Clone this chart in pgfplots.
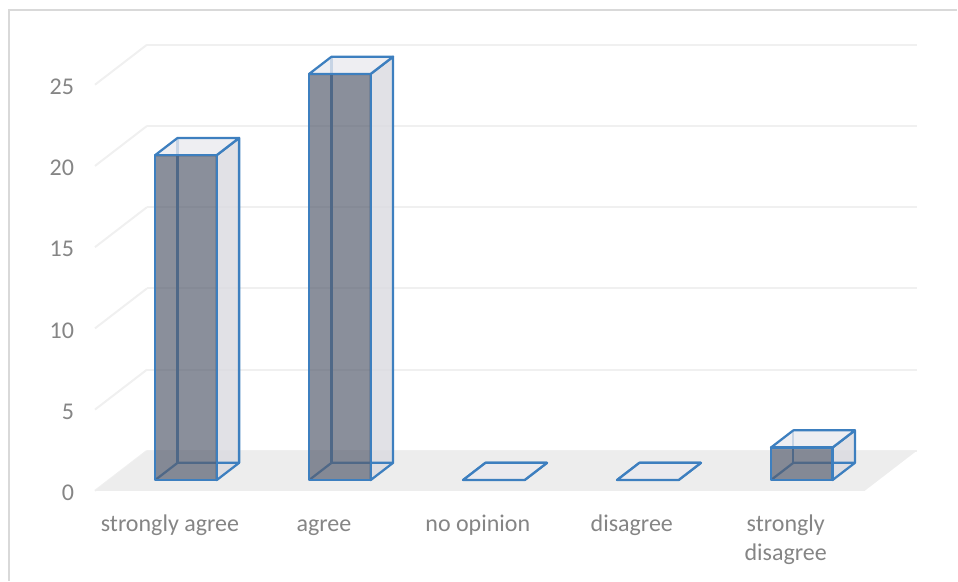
\documentclass[border=0pt]{standalone}
\usepackage{fontspec}
\setmainfont{Carlito}
\usepackage{pgfplots}
\pgfplotsset{compat=1.18}

\definecolor{edgeblue}{HTML}{3D7FBF}
\definecolor{txt}{HTML}{858585}
\definecolor{gridc}{HTML}{F0F0F0}
\definecolor{floorc}{HTML}{EDEDED}
\definecolor{framec}{HTML}{D9D9D9}
\definecolor{frontc}{HTML}{585F70}
\definecolor{sidec}{HTML}{DADAE0}
\definecolor{topc}{HTML}{EAEAEF}

% one column: left x, right x, value (depth runs from 0.27 to 0.7)
\newcommand{\column}[3]{%
  \addplot3[fill=sidec,fill opacity=0.8,draw=edgeblue,line width=1.7pt,line join=round]
    coordinates {(#2,0.27,0) (#2,0.7,0) (#2,0.7,#3) (#2,0.27,#3)} -- cycle;
  \addplot3[draw=edgeblue,line width=1.7pt,line join=round]
    coordinates {(#1,0.27,0) (#1,0.7,0) (#2,0.7,0)};
  \addplot3[draw=edgeblue,line width=1.7pt]
    coordinates {(#1,0.7,0) (#1,0.7,#3)};
  \addplot3[fill=topc,fill opacity=0.8,draw=edgeblue,line width=1.7pt,line join=round]
    coordinates {(#1,0.27,#3) (#1,0.7,#3) (#2,0.7,#3) (#2,0.27,#3)} -- cycle;
  \addplot3[fill=frontc,fill opacity=0.7,draw=edgeblue,line width=1.7pt,line join=round]
    coordinates {(#1,0.27,0) (#2,0.27,0) (#2,0.27,#3) (#1,0.27,#3)} -- cycle;
}

\begin{document}
\begin{tikzpicture}
  \begin{axis}[
    at={(0pt,0pt)}, anchor=origin,
    x={(115.5pt,0pt)}, y={(39pt,30pt)}, z={(0pt,12.1875pt)},
    xmin=-0.5, xmax=4.5, ymin=0, ymax=1, zmin=0, zmax=25,
    clip=false,
    axis line style={draw=none},
    tick style={draw=none},
    ytick=\empty,
    xtick={0,1,2,3,4},
    xticklabels={\strut strongly agree,\strut agree,\strut no opinion,\strut disagree,{\strut strongly\\\strut disagree}},
    ztick={0,5,10,15,20,25},
    zmajorgrids=true,
    major grid style={gridc,line width=1.5pt},
    /pgf/number format/assume math mode=true,
    tick label style={font=\fontsize{18}{21.75}\selectfont,text=txt},
    x tick label style={align=center,anchor=north,xshift=-1.5pt,yshift=-12pt},
    z tick label style={anchor=east,xshift=-12.25pt,yshift=-1.5pt},
  ]
    \addplot3[fill=floorc,draw=none]
      coordinates {(-0.5,0,0) (4.5,0,0) (4.5,1,0) (-0.5,1,0)} -- cycle;
    \column{-0.2}{0.2}{20}
    \column{0.8}{1.2}{25}
    \column{1.8}{2.2}{0}
    \column{2.8}{3.2}{0}
    \column{3.8}{4.2}{2}
  \end{axis}
  \draw[framec,line width=1.5pt] (-122.5pt,-67.5pt) -- (-122.5pt,360.5pt) -- (589pt,360.5pt);
  \path[use as bounding box] (-129pt,-67.5pt) rectangle (589.5pt,368.25pt);
\end{tikzpicture}
\end{document}
